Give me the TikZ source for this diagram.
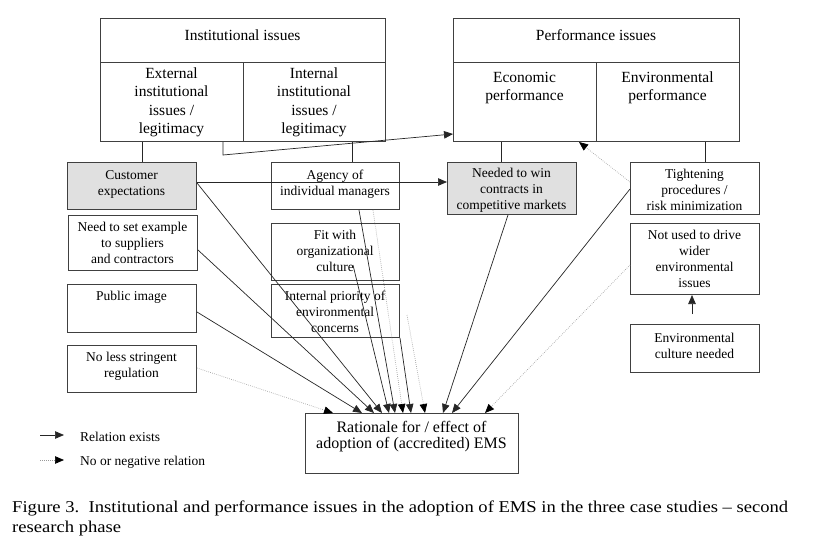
\documentclass[tikz,border=0pt]{standalone}
\usepackage{fontspec}
\usepackage{graphicx}
\setmainfont{Liberation Serif}
\usetikzlibrary{arrows.meta}
\newlength\capw
\newcommand\mycapfont{\fontsize{16.5}{20}\selectfont}
\newcommand\capone{Figure 3.\ \ Institutional and performance issues in the adoption of EMS in the three case studies -- second}
\begin{document}
\settowidth{\capw}{\mycapfont\capone}%
\pgfmathsetmacro\capsx{776/\capw}%
\begin{tikzpicture}[x=1pt,y=-1pt,
  box/.style={draw=black!75, line width=1pt, inner sep=0pt, anchor=north west},
  gbox/.style={box, fill=black!12},
  txt/.style={align=center, inner sep=0pt, font=\fontsize{13.5}{16}\selectfont},
  htxt/.style={align=center, inner sep=0pt, font=\fontsize{15.5}{18.5}\selectfont},
  rtxt/.style={align=center, inner sep=0pt, font=\fontsize{16}{16.5}\selectfont},
  conn/.style={line width=0.7pt, draw=black!85},
  arr/.style={conn, -{Triangle[length=9pt,width=7.5pt]}},
  darr/.style={draw=black!40, line width=0.7pt, dash pattern=on 0.6pt off 1.4pt, -{Triangle[length=9pt,width=7.5pt,color=black]}}
]
\useasboundingbox[fill=white] (0,0) rectangle (817,539);

% top boxes
\node[box, minimum width=285pt, minimum height=44pt] (instH) at (100,18) {};
\node[box, minimum width=143pt, minimum height=79pt] (instE) at (100,62) {};
\node[box, minimum width=142pt, minimum height=79pt] (instI) at (243,62) {};
\node[box, minimum width=286pt, minimum height=44pt] (perfH) at (453,18) {};
\node[box, minimum width=143pt, minimum height=79pt] (econ) at (453,62) {};
\node[box, minimum width=143pt, minimum height=79pt] (env) at (596,62) {};

\node[htxt] (instH-t) at (242.5,35.5) {Institutional issues};
\node[htxt] (instE-t) at (171.5,102.5) {External\\institutional\\issues /\\legitimacy};
\node[htxt] (instI-t) at (314,102.5) {Internal\\institutional\\issues /\\legitimacy};
\node[htxt] (perfH-t) at (596,35) {Performance issues};
\node[htxt] (econ-t) at (524.5,88) {Economic\\performance};
\node[htxt] (env-t) at (667.5,88) {Environmental\\performance};

% left column
\node[gbox, minimum width=129pt, minimum height=47pt] (cust) at (67,162) {};
\node[box, minimum width=129pt, minimum height=55pt] (need) at (68,215) {};
\node[box, minimum width=129pt, minimum height=48pt] (pub) at (67,284) {};
\node[box, minimum width=129pt, minimum height=47pt] (noless) at (67,345) {};
\node[txt] (cust-t) at (131.5,184) {Customer\\expectations};
\node[txt] (need-t) at (132.5,243) {Need to set example\\to suppliers\\and contractors};
\node[txt] (pub-t) at (131.5,297) {Public image};
\node[txt] (noless-t) at (131.5,366) {No less stringent\\regulation};

% middle column
\node[box, minimum width=128pt, minimum height=47pt] (agency) at (271,162) {};
\node[box, minimum width=128pt, minimum height=57pt] (fit) at (271,223) {};
\node[box, minimum width=128pt, minimum height=53pt] (prio) at (271,284) {};
\node[txt] (agency-t) at (335,184) {Agency of\\individual managers};
\node[txt] (fit-t) at (335,251) {Fit with\\organizational\\culture};
\node[txt] (prio-t) at (335,312) {Internal priority of\\environmental\\concerns};

% right columns
\node[gbox, minimum width=129pt, minimum height=52pt] (win) at (447,162) {};
\node[box, minimum width=129pt, minimum height=52pt] (tight) at (630,162) {};
\node[box, minimum width=129pt, minimum height=71pt] (notused) at (630,223) {};
\node[box, minimum width=129pt, minimum height=48pt] (envcult) at (630,324) {};
\node[txt] (win-t) at (511.5,190) {Needed to win\\contracts in\\competitive markets};
\node[txt] (tight-t) at (694.5,190) {Tightening\\procedures /\\risk minimization};
\node[txt] (notused-t) at (694.5,259) {Not used to drive\\wider\\environmental\\issues};
\node[txt] (envcult-t) at (694.5,346) {Environmental\\culture needed};

% rationale
\node[box, minimum width=213pt, minimum height=60pt] (rat) at (305,413) {};
\node[rtxt] (rat-t) at (411.5,436.5) {Rationale for / effect of\\adoption of (accredited) EMS};

% connectors from top boxes
\coordinate (xa) at (142,150);
\draw[conn] (instE.south -| xa) -- (cust.north -| xa);
\coordinate (xb) at (223,155);
\coordinate (yb) at (0,134);
\draw[arr] (instE.south -| xb) -- (xb) -- (econ.west |- yb);
\coordinate (xc) at (352,150);
\draw[conn] (instI.south -| xc) -- (agency.north -| xc);
\coordinate (xd) at (501,150);
\draw[conn] (econ.south -| xd) -- (win.north -| xd);
\coordinate (xe) at (705,150);
\draw[conn] (env.south -| xe) -- (tight.north -| xe);
\coordinate (ye) at (0,182);
\coordinate (xf) at (579,150);
\draw[darr] (tight.west |- ye) -- (econ.south -| xf);
\draw[arr] (cust.east |- ye) -- (win.west |- ye);
\coordinate (xg) at (692,314);
\draw[arr] (xg) -- (notused.south -| xg);

% arrows into rationale
\draw[darr] (noless.east |- 0,368) -- (rat.north -| 333,0);
\draw[arr] (pub.east |- 0,312) -- (rat.north -| 362,0);
\draw[arr] (need.east |- 0,250) -- (rat.north -| 374,0);
\draw[arr] (cust.east |- 0,183) -- (rat.north -| 382,0);
\coordinate (sfit) at (353,265);
\draw[arr] (sfit) -- (rat.north -| 389,0);
\draw[arr] (agency.south -| 359,0) -- (rat.north -| 395,0);
\draw[darr] (agency.south -| 373,0) -- (rat.north -| 403,0);
\draw[arr] (prio.south east) -- (rat.north -| 411,0);
\coordinate (sdot) at (407,315);
\draw[darr] (sdot) -- (rat.north -| 425,0);
\draw[arr] (win.south -| 508,0) -- (rat.north -| 443,0);
\draw[arr] (tight.west |- 0,189) -- (rat.north -| 452,0);
\draw[darr] (notused.west |- 0,265) -- (rat.north -| 485,0);

% legend
\coordinate (la) at (40,435);
\coordinate (lb) at (64,435);
\draw[arr] (la) -- (lb);
\node[txt, anchor=west] (l1) at (80,437) {Relation exists};
\coordinate (lc) at (40,460);
\coordinate (ld) at (64,460);
\draw[darr] (lc) -- (ld);
\node[txt, anchor=west] (l2) at (80,462) {No or negative relation};

% caption
\node[anchor=base west, inner sep=0pt] (cap1) at (12,512) {\scalebox{\capsx}[1]{\mycapfont\capone}};
\node[anchor=base west, inner sep=0pt] (cap2) at (12,532) {\scalebox{\capsx}[1]{\mycapfont research phase}};
\end{tikzpicture}
\end{document}
